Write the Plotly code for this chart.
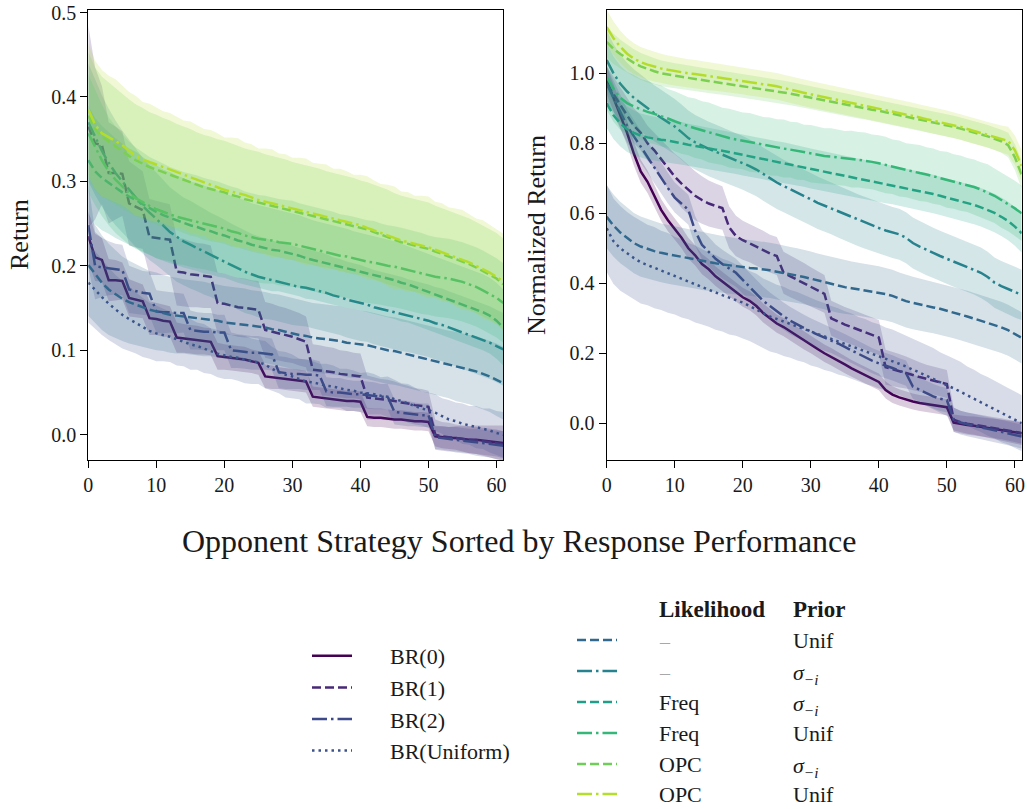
import plotly.graph_objects as go

X = list(range(62))

NAMES = ["BR(0)", "BR(1)", "BR(2)", "BR(Uniform)",
         "–", "–", "Freq", "Freq", "OPC", "OPC"]
PRIORS = ["Unif", "σ", "σ", "Unif", "σ", "Unif"]
COLORS = ["#440154", "#482878", "#3e4989", "#3b528b",
          "#31688e", "#26828e", "#1f9e89", "#35b779", "#6ece58", "#b5de2b"]
DASH = "9px,4px"
DASHDOT = "15px,4px,2.5px,4px"
DOT = "2.5px,4px"
DASHES = ["solid", DASH, DASHDOT, DOT, DASH, DASHDOT, DASH, DASHDOT, DASH, DASHDOT]

# ---------------- Left panel: Return (means) ----------------
L_BR0 = [0.235,0.21,0.207,0.183,0.183,0.182,0.162,0.16,0.158,0.138,0.137,0.135,0.134,0.115,0.114,0.113,0.112,0.111,0.11,0.093,0.092,0.091,0.09,0.089,0.087,0.085,0.069,0.068,0.067,0.066,0.065,0.064,0.063,0.045,0.044,0.043,0.042,0.041,0.04,0.04,0.039,0.021,0.02,0.02,0.019,0.018,0.018,0.017,0.016,0.016,0.015,-0.002,-0.003,-0.004,-0.004,-0.005,-0.006,-0.006,-0.007,-0.008,-0.009,-0.01]
L_BR1 = [0.365,0.345,0.343,0.31,0.31,0.309,0.274,0.27,0.266,0.234,0.233,0.232,0.231,0.193,0.192,0.19,0.189,0.188,0.187,0.156,0.155,0.153,0.151,0.15,0.149,0.148,0.124,0.122,0.12,0.118,0.116,0.113,0.11,0.077,0.076,0.075,0.074,0.072,0.071,0.07,0.069,0.044,0.043,0.042,0.041,0.04,0.038,0.037,0.035,0.034,0.033,0.0,-0.002,-0.003,-0.004,-0.005,-0.006,-0.007,-0.008,-0.009,-0.01,-0.012]
L_BR2 = [0.248,0.2,0.198,0.197,0.196,0.195,0.172,0.17,0.168,0.167,0.146,0.145,0.145,0.144,0.144,0.124,0.123,0.122,0.122,0.121,0.121,0.1,0.099,0.098,0.097,0.097,0.096,0.095,0.074,0.073,0.072,0.072,0.071,0.071,0.07,0.051,0.05,0.05,0.049,0.048,0.048,0.047,0.046,0.045,0.045,0.027,0.026,0.025,0.024,0.023,0.023,-0.003,-0.004,-0.005,-0.006,-0.007,-0.008,-0.009,-0.01,-0.011,-0.012,-0.013]
L_BRU = [0.18,0.171,0.163,0.155,0.148,0.142,0.137,0.132,0.127,0.123,0.12,0.118,0.116,0.113,0.11,0.107,0.105,0.102,0.099,0.096,0.094,0.092,0.091,0.089,0.087,0.086,0.083,0.078,0.074,0.071,0.069,0.066,0.063,0.062,0.06,0.058,0.057,0.055,0.053,0.052,0.05,0.049,0.048,0.046,0.045,0.042,0.04,0.037,0.034,0.031,0.029,0.026,0.022,0.018,0.016,0.013,0.011,0.009,0.007,0.005,0.002,0.0]
L_NU = [0.201,0.19,0.18,0.172,0.166,0.161,0.157,0.154,0.151,0.148,0.146,0.144,0.142,0.141,0.14,0.139,0.138,0.137,0.136,0.135,0.133,0.132,0.131,0.13,0.129,0.128,0.127,0.125,0.124,0.122,0.12,0.118,0.117,0.115,0.114,0.113,0.112,0.111,0.109,0.108,0.107,0.106,0.104,0.102,0.1,0.099,0.097,0.095,0.093,0.091,0.089,0.087,0.085,0.083,0.081,0.079,0.077,0.075,0.072,0.069,0.065,0.061]
L_NS = [0.37,0.352,0.336,0.322,0.31,0.3,0.29,0.28,0.271,0.263,0.256,0.248,0.24,0.234,0.229,0.225,0.221,0.217,0.213,0.209,0.205,0.201,0.197,0.193,0.19,0.187,0.185,0.183,0.181,0.179,0.177,0.175,0.174,0.172,0.17,0.168,0.165,0.163,0.16,0.158,0.156,0.154,0.151,0.149,0.147,0.145,0.143,0.141,0.139,0.137,0.135,0.132,0.13,0.127,0.124,0.121,0.118,0.115,0.112,0.109,0.105,0.101]
L_FS = [0.325,0.312,0.304,0.298,0.292,0.287,0.282,0.278,0.273,0.268,0.264,0.26,0.257,0.254,0.251,0.248,0.246,0.243,0.241,0.238,0.236,0.233,0.23,0.228,0.225,0.223,0.221,0.219,0.218,0.216,0.214,0.212,0.209,0.207,0.205,0.203,0.201,0.199,0.197,0.195,0.193,0.191,0.189,0.187,0.185,0.183,0.18,0.178,0.175,0.172,0.169,0.166,0.163,0.16,0.157,0.154,0.151,0.148,0.145,0.141,0.135,0.127]
L_FU = [0.357,0.34,0.325,0.312,0.302,0.294,0.286,0.28,0.275,0.271,0.267,0.264,0.261,0.258,0.256,0.254,0.252,0.25,0.248,0.246,0.244,0.241,0.239,0.236,0.234,0.232,0.231,0.23,0.228,0.227,0.226,0.224,0.222,0.22,0.218,0.216,0.214,0.212,0.211,0.209,0.207,0.205,0.204,0.202,0.2,0.199,0.197,0.195,0.193,0.191,0.189,0.187,0.186,0.185,0.183,0.181,0.178,0.175,0.171,0.167,0.162,0.156]
L_OS = [0.378,0.362,0.353,0.347,0.342,0.336,0.33,0.325,0.321,0.317,0.314,0.311,0.308,0.305,0.302,0.299,0.296,0.293,0.291,0.289,0.287,0.284,0.282,0.279,0.277,0.275,0.273,0.271,0.269,0.267,0.265,0.263,0.261,0.259,0.257,0.255,0.253,0.251,0.249,0.247,0.245,0.243,0.24,0.237,0.234,0.231,0.228,0.226,0.224,0.222,0.22,0.217,0.214,0.211,0.208,0.205,0.202,0.198,0.194,0.19,0.185,0.178]
L_OU = [0.385,0.367,0.357,0.352,0.348,0.343,0.336,0.33,0.326,0.323,0.32,0.317,0.314,0.311,0.308,0.305,0.302,0.299,0.296,0.293,0.29,0.288,0.286,0.284,0.281,0.278,0.276,0.274,0.272,0.27,0.268,0.266,0.264,0.262,0.26,0.258,0.256,0.254,0.252,0.25,0.248,0.245,0.242,0.239,0.236,0.233,0.23,0.228,0.226,0.224,0.222,0.219,0.216,0.213,0.21,0.207,0.204,0.2,0.196,0.192,0.187,0.181]

# ---------------- Left panel: band half-widths ----------------
LS_BR0 = [0.03,0.028,0.026,0.025,0.024,0.022,0.022,0.021,0.02,0.02,0.019,0.019,0.018,0.018,0.017,0.017,0.017,0.016,0.016,0.016,0.015,0.015,0.015,0.015,0.014,0.014,0.014,0.014,0.013,0.013,0.013,0.013,0.013,0.012,0.012,0.012,0.012,0.012,0.012,0.012,0.012,0.011,0.011,0.011,0.011,0.011,0.011,0.011,0.011,0.011,0.011,0.012,0.013,0.013,0.014,0.015,0.016,0.017,0.018,0.019,0.02,0.021]
LS_BR1 = [0.12,0.09,0.07,0.06,0.055,0.05,0.05,0.048,0.046,0.045,0.044,0.043,0.042,0.04,0.04,0.039,0.038,0.038,0.037,0.036,0.036,0.035,0.035,0.035,0.034,0.034,0.033,0.033,0.032,0.032,0.031,0.031,0.03,0.03,0.03,0.029,0.029,0.028,0.028,0.027,0.027,0.026,0.025,0.024,0.024,0.023,0.022,0.021,0.02,0.02,0.019,0.018,0.017,0.017,0.016,0.016,0.016,0.016,0.016,0.016,0.016,0.016]
LS_BR2 = [0.05,0.04,0.035,0.032,0.03,0.03,0.028,0.027,0.026,0.026,0.025,0.025,0.024,0.024,0.023,0.023,0.022,0.022,0.022,0.021,0.021,0.021,0.02,0.02,0.02,0.02,0.019,0.019,0.019,0.019,0.018,0.018,0.018,0.018,0.017,0.017,0.017,0.017,0.016,0.016,0.016,0.016,0.016,0.015,0.015,0.015,0.015,0.015,0.014,0.014,0.014,0.014,0.014,0.014,0.015,0.015,0.015,0.016,0.016,0.016,0.017,0.017]
LS_BRU = [0.047,0.046,0.045,0.043,0.041,0.04,0.038,0.036,0.035,0.033,0.033,0.031,0.03,0.031,0.029,0.03,0.028,0.029,0.027,0.028,0.028,0.026,0.027,0.028,0.027,0.026,0.028,0.026,0.025,0.027,0.026,0.024,0.026,0.025,0.024,0.026,0.025,0.023,0.025,0.024,0.023,0.025,0.024,0.022,0.024,0.023,0.021,0.023,0.022,0.02,0.021,0.022,0.021,0.023,0.022,0.024,0.023,0.025,0.024,0.026,0.026,0.027]
LS_NU = [0.06,0.058,0.056,0.054,0.052,0.05,0.049,0.048,0.047,0.046,0.046,0.045,0.045,0.045,0.044,0.044,0.044,0.044,0.043,0.043,0.043,0.043,0.043,0.043,0.042,0.042,0.042,0.042,0.042,0.042,0.042,0.042,0.041,0.041,0.041,0.041,0.041,0.041,0.041,0.041,0.04,0.04,0.04,0.04,0.04,0.04,0.04,0.04,0.04,0.04,0.04,0.04,0.04,0.04,0.041,0.041,0.041,0.042,0.042,0.042,0.043,0.043]
LS_NS = [0.07,0.068,0.066,0.064,0.062,0.06,0.059,0.058,0.057,0.056,0.055,0.054,0.053,0.053,0.052,0.052,0.051,0.051,0.05,0.05,0.05,0.049,0.049,0.049,0.048,0.048,0.048,0.047,0.047,0.047,0.047,0.046,0.046,0.046,0.046,0.046,0.045,0.045,0.045,0.045,0.045,0.044,0.044,0.044,0.044,0.044,0.044,0.043,0.043,0.043,0.043,0.043,0.043,0.043,0.043,0.043,0.043,0.043,0.043,0.043,0.043,0.043]
LS_FS = [0.065,0.063,0.062,0.06,0.059,0.058,0.057,0.057,0.056,0.055,0.055,0.054,0.054,0.053,0.053,0.052,0.052,0.052,0.051,0.051,0.05,0.05,0.05,0.05,0.049,0.049,0.049,0.049,0.048,0.048,0.048,0.048,0.048,0.047,0.047,0.047,0.047,0.047,0.047,0.046,0.046,0.046,0.046,0.046,0.046,0.046,0.046,0.045,0.045,0.045,0.045,0.045,0.045,0.045,0.045,0.045,0.045,0.045,0.045,0.045,0.045,0.045]
LS_FU = [0.07,0.068,0.066,0.064,0.063,0.062,0.061,0.06,0.059,0.058,0.058,0.057,0.056,0.056,0.055,0.055,0.055,0.054,0.054,0.054,0.053,0.053,0.053,0.052,0.052,0.052,0.052,0.051,0.051,0.051,0.051,0.05,0.05,0.05,0.05,0.05,0.05,0.049,0.049,0.049,0.049,0.049,0.049,0.048,0.048,0.048,0.048,0.048,0.048,0.048,0.047,0.047,0.047,0.047,0.047,0.047,0.047,0.047,0.047,0.047,0.047,0.047]
LS_OS = [0.075,0.073,0.071,0.07,0.069,0.068,0.067,0.066,0.066,0.065,0.065,0.064,0.064,0.063,0.063,0.063,0.062,0.062,0.062,0.061,0.061,0.061,0.06,0.06,0.06,0.06,0.059,0.059,0.059,0.059,0.058,0.058,0.058,0.058,0.058,0.057,0.057,0.057,0.057,0.057,0.056,0.056,0.056,0.056,0.056,0.055,0.055,0.055,0.055,0.055,0.055,0.054,0.054,0.054,0.054,0.054,0.054,0.054,0.054,0.054,0.054,0.054]
LS_OU = [0.078,0.076,0.075,0.073,0.073,0.071,0.07,0.071,0.068,0.069,0.068,0.066,0.067,0.066,0.064,0.066,0.065,0.063,0.065,0.064,0.062,0.064,0.065,0.062,0.063,0.061,0.063,0.064,0.061,0.062,0.06,0.062,0.063,0.06,0.061,0.062,0.059,0.061,0.06,0.058,0.06,0.061,0.059,0.058,0.06,0.061,0.058,0.059,0.057,0.059,0.06,0.057,0.058,0.056,0.058,0.059,0.057,0.056,0.058,0.057,0.056,0.057]

# ---------------- Right panel: Normalized Return (means) ----------------
R_BR0 = [0.98,0.93,0.88,0.83,0.77,0.72,0.69,0.65,0.61,0.58,0.555,0.53,0.5,0.48,0.455,0.44,0.42,0.405,0.39,0.375,0.36,0.35,0.335,0.315,0.3,0.285,0.275,0.262,0.25,0.237,0.225,0.212,0.2,0.19,0.178,0.168,0.157,0.147,0.137,0.128,0.118,0.095,0.082,0.074,0.067,0.062,0.058,0.055,0.052,0.049,0.046,0.002,-0.002,-0.005,-0.007,-0.01,-0.013,-0.016,-0.019,-0.022,-0.025,-0.029]
R_BR1 = [0.97,0.94,0.91,0.88,0.85,0.83,0.8,0.78,0.755,0.73,0.705,0.685,0.667,0.65,0.638,0.628,0.621,0.615,0.56,0.535,0.523,0.515,0.505,0.495,0.485,0.478,0.43,0.42,0.41,0.4,0.39,0.38,0.37,0.3,0.29,0.282,0.275,0.268,0.26,0.252,0.245,0.16,0.155,0.15,0.145,0.138,0.132,0.127,0.122,0.117,0.112,0.01,0.003,-0.001,-0.004,-0.007,-0.01,-0.013,-0.016,-0.02,-0.024,-0.028]
R_BR2 = [0.97,0.93,0.89,0.85,0.82,0.79,0.76,0.73,0.7,0.672,0.645,0.628,0.61,0.55,0.51,0.49,0.47,0.455,0.442,0.43,0.41,0.39,0.37,0.35,0.335,0.32,0.306,0.293,0.282,0.272,0.262,0.253,0.245,0.238,0.228,0.218,0.208,0.198,0.188,0.179,0.171,0.165,0.158,0.15,0.143,0.105,0.095,0.085,0.077,0.07,0.066,0.01,0.002,-0.003,-0.008,-0.012,-0.016,-0.02,-0.025,-0.029,-0.033,-0.038]
R_BRU = [0.557,0.52,0.5,0.485,0.472,0.46,0.452,0.445,0.437,0.43,0.422,0.414,0.406,0.398,0.39,0.382,0.374,0.366,0.359,0.352,0.345,0.335,0.326,0.315,0.305,0.298,0.291,0.284,0.277,0.27,0.262,0.255,0.248,0.241,0.234,0.227,0.22,0.212,0.205,0.198,0.191,0.184,0.177,0.17,0.162,0.154,0.145,0.136,0.127,0.117,0.108,0.1,0.09,0.078,0.068,0.058,0.048,0.039,0.029,0.02,0.01,0.0]
R_NU = [0.59,0.565,0.545,0.53,0.515,0.505,0.498,0.492,0.487,0.483,0.479,0.475,0.471,0.467,0.463,0.46,0.457,0.454,0.451,0.448,0.446,0.444,0.442,0.44,0.437,0.433,0.43,0.426,0.422,0.418,0.413,0.408,0.403,0.398,0.393,0.389,0.386,0.383,0.38,0.377,0.373,0.369,0.364,0.356,0.349,0.344,0.339,0.335,0.331,0.327,0.322,0.317,0.311,0.305,0.299,0.293,0.287,0.28,0.274,0.266,0.256,0.244]
R_NS = [1.038,1.0,0.97,0.948,0.93,0.915,0.9,0.886,0.873,0.861,0.848,0.832,0.815,0.803,0.793,0.784,0.776,0.768,0.76,0.752,0.744,0.735,0.725,0.712,0.7,0.688,0.678,0.669,0.66,0.65,0.64,0.63,0.622,0.614,0.605,0.596,0.588,0.58,0.573,0.565,0.558,0.551,0.545,0.54,0.53,0.515,0.505,0.495,0.487,0.478,0.47,0.462,0.455,0.448,0.44,0.43,0.418,0.402,0.392,0.383,0.374,0.367]
R_FS = [0.914,0.88,0.857,0.84,0.83,0.822,0.817,0.813,0.81,0.808,0.805,0.8,0.796,0.792,0.789,0.785,0.782,0.779,0.775,0.771,0.767,0.763,0.759,0.755,0.751,0.748,0.745,0.741,0.737,0.733,0.728,0.724,0.72,0.716,0.712,0.707,0.703,0.699,0.695,0.691,0.688,0.685,0.681,0.677,0.672,0.668,0.664,0.66,0.655,0.65,0.645,0.64,0.635,0.63,0.624,0.617,0.61,0.601,0.59,0.578,0.562,0.543]
R_FU = [0.99,0.955,0.93,0.915,0.905,0.897,0.89,0.884,0.878,0.871,0.863,0.855,0.849,0.843,0.837,0.831,0.825,0.82,0.815,0.811,0.807,0.803,0.799,0.795,0.791,0.788,0.785,0.782,0.778,0.774,0.77,0.767,0.764,0.762,0.759,0.757,0.755,0.753,0.751,0.747,0.743,0.738,0.733,0.728,0.723,0.719,0.715,0.711,0.706,0.701,0.696,0.691,0.686,0.681,0.675,0.668,0.66,0.65,0.638,0.627,0.614,0.6]
R_OS = [1.09,1.07,1.055,1.042,1.03,1.02,1.012,1.006,1.0,0.996,0.993,0.99,0.987,0.984,0.981,0.978,0.976,0.973,0.97,0.967,0.964,0.962,0.959,0.956,0.953,0.95,0.946,0.942,0.938,0.934,0.93,0.927,0.923,0.919,0.915,0.911,0.907,0.903,0.9,0.896,0.893,0.889,0.885,0.881,0.877,0.872,0.868,0.864,0.86,0.856,0.852,0.847,0.842,0.837,0.832,0.826,0.82,0.813,0.806,0.795,0.76,0.71]
R_OU = [1.132,1.1,1.076,1.056,1.042,1.032,1.025,1.019,1.014,1.01,1.006,1.003,1.0,0.998,0.995,0.992,0.99,0.987,0.985,0.982,0.979,0.976,0.973,0.97,0.967,0.963,0.958,0.953,0.948,0.944,0.94,0.936,0.932,0.928,0.924,0.92,0.916,0.912,0.908,0.904,0.9,0.896,0.892,0.888,0.884,0.879,0.874,0.869,0.865,0.861,0.857,0.852,0.847,0.841,0.836,0.83,0.824,0.818,0.813,0.807,0.78,0.735]

# ---------------- Right panel: band half-widths ----------------
RS_BR0 = [0.04,0.038,0.036,0.035,0.034,0.033,0.032,0.032,0.031,0.031,0.03,0.03,0.03,0.029,0.029,0.029,0.028,0.028,0.028,0.028,0.027,0.027,0.027,0.027,0.027,0.026,0.026,0.026,0.026,0.026,0.025,0.025,0.025,0.025,0.025,0.025,0.024,0.024,0.024,0.024,0.024,0.024,0.024,0.023,0.023,0.023,0.023,0.023,0.023,0.023,0.023,0.023,0.024,0.025,0.026,0.027,0.028,0.029,0.03,0.031,0.032,0.033]
RS_BR1 = [0.05,0.05,0.05,0.05,0.05,0.05,0.05,0.05,0.055,0.06,0.065,0.07,0.07,0.07,0.068,0.066,0.064,0.062,0.06,0.058,0.056,0.055,0.055,0.055,0.054,0.054,0.06,0.06,0.06,0.058,0.056,0.055,0.054,0.05,0.05,0.05,0.05,0.05,0.05,0.05,0.05,0.05,0.05,0.048,0.046,0.044,0.042,0.04,0.04,0.04,0.04,0.035,0.033,0.032,0.031,0.03,0.03,0.03,0.03,0.03,0.03,0.03]
RS_BR2 = [0.05,0.05,0.049,0.048,0.047,0.046,0.045,0.045,0.044,0.044,0.043,0.043,0.043,0.042,0.042,0.042,0.041,0.041,0.041,0.04,0.04,0.04,0.04,0.04,0.039,0.039,0.039,0.039,0.038,0.038,0.038,0.038,0.038,0.037,0.037,0.037,0.037,0.037,0.036,0.036,0.036,0.036,0.036,0.036,0.036,0.035,0.035,0.035,0.035,0.035,0.035,0.034,0.034,0.034,0.034,0.034,0.034,0.034,0.034,0.034,0.034,0.034]
RS_BRU = [0.125,0.122,0.121,0.119,0.118,0.118,0.115,0.116,0.113,0.114,0.111,0.112,0.109,0.11,0.108,0.106,0.107,0.104,0.105,0.102,0.103,0.1,0.101,0.099,0.1,0.098,0.099,0.097,0.098,0.096,0.097,0.095,0.096,0.094,0.095,0.093,0.094,0.092,0.093,0.091,0.092,0.09,0.091,0.089,0.09,0.088,0.089,0.087,0.088,0.086,0.087,0.085,0.086,0.084,0.085,0.083,0.084,0.082,0.083,0.081,0.081,0.08]
RS_NU = [0.09,0.089,0.088,0.087,0.086,0.086,0.085,0.085,0.084,0.084,0.083,0.083,0.083,0.082,0.082,0.082,0.081,0.081,0.081,0.08,0.08,0.08,0.08,0.079,0.079,0.079,0.079,0.078,0.078,0.078,0.078,0.077,0.077,0.077,0.077,0.077,0.076,0.076,0.076,0.076,0.076,0.075,0.075,0.075,0.075,0.075,0.075,0.074,0.074,0.074,0.074,0.074,0.074,0.074,0.073,0.073,0.073,0.073,0.073,0.073,0.073,0.073]
RS_NS = [0.085,0.084,0.083,0.082,0.082,0.081,0.081,0.08,0.08,0.08,0.079,0.079,0.079,0.078,0.078,0.078,0.078,0.077,0.077,0.077,0.077,0.076,0.076,0.076,0.076,0.076,0.075,0.075,0.075,0.075,0.075,0.075,0.074,0.074,0.074,0.074,0.074,0.074,0.074,0.073,0.073,0.073,0.073,0.073,0.073,0.073,0.073,0.072,0.072,0.072,0.072,0.072,0.072,0.072,0.072,0.072,0.072,0.072,0.072,0.072,0.072,0.072]
RS_FS = [0.07,0.068,0.066,0.065,0.064,0.063,0.063,0.062,0.062,0.061,0.061,0.061,0.06,0.06,0.06,0.06,0.059,0.059,0.059,0.059,0.059,0.058,0.058,0.058,0.058,0.058,0.058,0.057,0.057,0.057,0.057,0.057,0.057,0.057,0.056,0.056,0.056,0.056,0.056,0.056,0.056,0.056,0.055,0.055,0.055,0.055,0.055,0.055,0.055,0.055,0.055,0.055,0.055,0.055,0.055,0.055,0.055,0.055,0.055,0.055,0.055,0.055]
RS_FU = [0.095,0.093,0.092,0.089,0.09,0.087,0.088,0.086,0.087,0.084,0.086,0.085,0.083,0.085,0.083,0.086,0.084,0.082,0.084,0.083,0.081,0.084,0.082,0.08,0.083,0.081,0.083,0.08,0.082,0.079,0.082,0.081,0.079,0.081,0.08,0.078,0.081,0.079,0.08,0.078,0.08,0.081,0.078,0.08,0.077,0.079,0.08,0.078,0.079,0.077,0.08,0.078,0.079,0.077,0.079,0.078,0.08,0.078,0.079,0.078,0.079,0.079]
RS_OS = [0.045,0.043,0.041,0.04,0.039,0.038,0.038,0.037,0.037,0.036,0.036,0.036,0.035,0.035,0.035,0.035,0.035,0.034,0.034,0.034,0.034,0.034,0.034,0.034,0.033,0.033,0.033,0.033,0.033,0.033,0.033,0.033,0.033,0.033,0.032,0.032,0.032,0.032,0.032,0.032,0.032,0.032,0.032,0.032,0.032,0.032,0.032,0.032,0.032,0.032,0.032,0.032,0.032,0.032,0.032,0.032,0.032,0.032,0.033,0.035,0.037,0.04]
RS_OU = [0.05,0.048,0.046,0.045,0.044,0.043,0.043,0.042,0.042,0.041,0.041,0.041,0.04,0.04,0.04,0.04,0.04,0.039,0.039,0.039,0.039,0.039,0.039,0.039,0.038,0.038,0.038,0.038,0.038,0.038,0.038,0.038,0.038,0.038,0.037,0.037,0.037,0.037,0.037,0.037,0.037,0.037,0.037,0.037,0.037,0.037,0.037,0.037,0.037,0.037,0.037,0.037,0.037,0.037,0.037,0.037,0.037,0.037,0.038,0.04,0.042,0.045]

LEFT_MEANS = [L_BR0, L_BR1, L_BR2, L_BRU, L_NU, L_NS, L_FS, L_FU, L_OS, L_OU]
LEFT_SPREAD = [LS_BR0, LS_BR1, LS_BR2, LS_BRU, LS_NU, LS_NS, LS_FS, LS_FU, LS_OS, LS_OU]
RIGHT_MEANS = [R_BR0, R_BR1, R_BR2, R_BRU, R_NU, R_NS, R_FS, R_FU, R_OS, R_OU]
RIGHT_SPREAD = [RS_BR0, RS_BR1, RS_BR2, RS_BRU, RS_NU, RS_NS, RS_FS, RS_FU, RS_OS, RS_OU]

X_TICKS = [0, 10, 20, 30, 40, 50, 60]
L_TICKS = [0.0, 0.1, 0.2, 0.3, 0.4, 0.5]
R_TICKS = [0.0, 0.2, 0.4, 0.6, 0.8, 1.0]

FONT = "Liberation Serif"
TXT = "#1a1a1a"
PAD = "\u00a0" * 6
H = 809.0
W = 1027.0
TABLE_ROWS = [640, 671, 702, 733, 764, 794]


def rgba(hexc, a):
    h = hexc.lstrip("#")
    return "rgba(%d,%d,%d,%.2f)" % (int(h[0:2], 16), int(h[2:4], 16), int(h[4:6], 16), a)


fig = go.Figure()

for panel, (means, spreads) in enumerate([(LEFT_MEANS, LEFT_SPREAD), (RIGHT_MEANS, RIGHT_SPREAD)]):
    xa = "x" if panel == 0 else "x2"
    ya = "y" if panel == 0 else "y2"
    for i in range(10):
        m = means[i]
        s = spreads[i]
        lo = [a - b for a, b in zip(m, s)]
        hi = [a + b for a, b in zip(m, s)]
        if i < 4:
            legname = PAD + NAMES[i]
            leg = "legend"
        else:
            legname = " "
            leg = "legend%d" % (i - 2)
        fig.add_trace(go.Scatter(
            x=X, y=m, xaxis=xa, yaxis=ya, mode="lines",
            line=dict(color=COLORS[i], width=2.5, dash=DASHES[i]),
            name=legname, legend=leg, showlegend=(panel == 0), hoverinfo="skip"))
        fig.add_trace(go.Scatter(
            x=X, y=lo, xaxis=xa, yaxis=ya, mode="lines",
            line=dict(width=0, color=COLORS[i]), showlegend=False, hoverinfo="skip"))
        fig.add_trace(go.Scatter(
            x=X, y=hi, xaxis=xa, yaxis=ya, mode="lines", fill="tonexty",
            fillcolor=rgba(COLORS[i], 0.2),
            line=dict(width=0, color=COLORS[i]), showlegend=False, hoverinfo="skip"))

axis_common = dict(showgrid=False, zeroline=False, showline=True, linecolor="black",
                   linewidth=1.3, mirror=True, ticks="outside", ticklen=7, tickwidth=1.3,
                   tickcolor="black", automargin=False,
                   tickfont=dict(family=FONT, size=20, color=TXT))

ytop = 1 - 10 / H
ybot = 1 - 460 / H

layout_kw = dict(
    width=1027, height=809,
    margin=dict(l=0, r=0, t=0, b=0),
    paper_bgcolor="white", plot_bgcolor="white",
    font=dict(family=FONT, color=TXT),
    xaxis=dict(domain=[88.3 / W, 503.3 / W], range=[0, 61], tickvals=X_TICKS,
               anchor="y", **axis_common),
    yaxis=dict(domain=[ybot, ytop], range=[-0.03, 0.503], tickvals=L_TICKS,
               tickformat=".1f", anchor="x", **axis_common),
    xaxis2=dict(domain=[606.7 / W, 1021.7 / W], range=[0, 61], tickvals=X_TICKS,
                anchor="y2", **axis_common),
    yaxis2=dict(domain=[ybot, ytop], range=[-0.105, 1.181], tickvals=R_TICKS,
                tickformat=".1f", anchor="x2", **axis_common),
    legend=dict(x=307 / W, y=1 - 635 / H, xanchor="left", yanchor="top",
                bgcolor="rgba(0,0,0,0)", borderwidth=0, itemwidth=40,
                font=dict(family=FONT, size=22, color=TXT), traceorder="normal"),
)
for k, ry in enumerate(TABLE_ROWS):
    layout_kw["legend%d" % (k + 2)] = dict(
        x=572 / W, y=1 - ry / H, xanchor="left", yanchor="middle",
        bgcolor="rgba(0,0,0,0)", borderwidth=0, itemwidth=40,
        font=dict(family=FONT, size=1, color="rgba(0,0,0,0)"))
fig.update_layout(**layout_kw)

ann = []
ann.append(dict(text="Return", x=20 / W, y=1 - 235 / H, xref="paper", yref="paper",
                xanchor="center", yanchor="middle",
                showarrow=False, textangle=-90, font=dict(family=FONT, size=26, color=TXT)))
ann.append(dict(text="Normalized Return", x=537 / W, y=1 - 235 / H, xref="paper", yref="paper",
                xanchor="center", yanchor="middle",
                showarrow=False, textangle=-90, font=dict(family=FONT, size=26, color=TXT)))
ann.append(dict(text="Opponent Strategy Sorted by Response Performance", x=519 / W, y=1 - 541 / H,
                xref="paper", yref="paper", xanchor="center", yanchor="middle", showarrow=False,
                font=dict(family=FONT, size=32, color=TXT)))
ann.append(dict(text="<b>Likelihood</b>", x=657 / W, y=1 - 609 / H, xref="paper", yref="paper",
                xanchor="left", yanchor="middle", showarrow=False,
                font=dict(family=FONT, size=23, color=TXT)))
ann.append(dict(text="<b>Prior</b>", x=791 / W, y=1 - 609 / H, xref="paper", yref="paper",
                xanchor="left", yanchor="middle", showarrow=False,
                font=dict(family=FONT, size=23, color=TXT)))
for k, yy in enumerate(TABLE_ROWS):
    lik = NAMES[4 + k]
    if lik == "–":
        ann.append(dict(text="–", x=657 / W, y=1 - (yy + 2) / H, xref="paper", yref="paper",
                        xanchor="left", yanchor="middle", showarrow=False,
                        font=dict(family=FONT, size=20, color="#a8a8a8")))
    else:
        ann.append(dict(text=lik, x=657 / W, y=1 - yy / H, xref="paper", yref="paper",
                        xanchor="left", yanchor="middle", showarrow=False,
                        font=dict(family=FONT, size=22, color=TXT)))
    p = PRIORS[k]
    t = "<i>σ</i><sub><i>−i</i></sub>" if p == "σ" else p
    ann.append(dict(text=t, x=791 / W, y=1 - (yy + (3 if p == "σ" else 0)) / H,
                    xref="paper", yref="paper",
                    xanchor="left", yanchor="middle", showarrow=False,
                    font=dict(family=FONT, size=22, color=TXT)))
fig.update_layout(annotations=ann)

fig.write_html("out.html")
